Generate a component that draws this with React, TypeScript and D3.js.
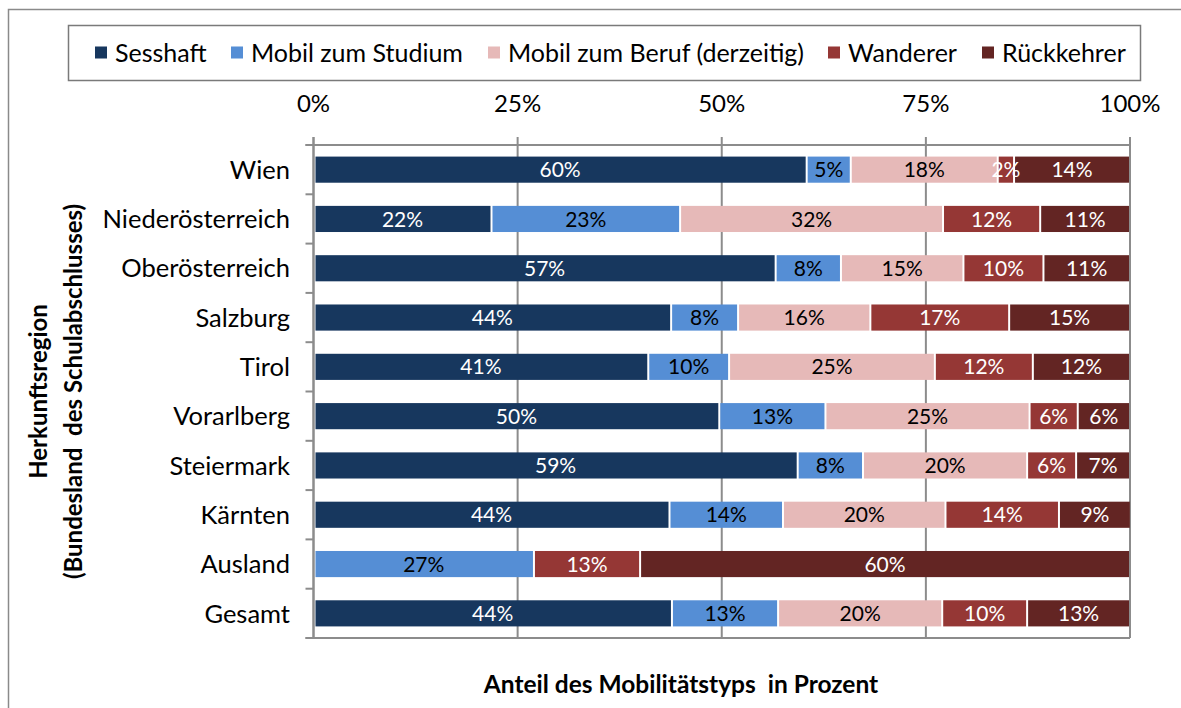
import React from 'react';
import * as d3 from 'd3';

const categories = ['Wien', 'Niederösterreich', 'Oberösterreich', 'Salzburg', 'Tirol', 'Vorarlberg', 'Steiermark', 'Kärnten', 'Ausland', 'Gesamt'];
const seriesNames = ['Sesshaft', 'Mobil zum Studium', 'Mobil zum Beruf (derzeitig)', 'Wanderer', 'Rückkehrer'];
const sesshaft = [60.4, 21.8, 56.6, 43.8, 41.0, 49.7, 59.3, 43.6, 0, 43.9];
const mobilStudium = [5.4, 23.1, 8.0, 8.2, 9.9, 13.0, 8.0, 13.9, 27.0, 13.0];
const mobilBeruf = [18.0, 32.2, 15.0, 16.2, 25.2, 25.0, 20.1, 19.9, 0, 20.1];
const wanderer = [2.0, 11.9, 9.8, 17.0, 12.0, 5.9, 6.0, 13.9, 13.0, 10.4];
const rueckkehrer = [14.2, 11.0, 10.6, 14.8, 11.9, 6.4, 6.6, 8.8, 60.0, 12.6];
const xTicks = [0, 25, 50, 75, 100];

const seriesValues = [sesshaft, mobilStudium, mobilBeruf, wanderer, rueckkehrer];
const colors = ['#17375E', '#558ED5', '#E6B9B8', '#953735', '#632523'];
const labelColors = ['#ffffff', '#000000', '#000000', '#ffffff', '#ffffff'];

const W = 1181;
const H = 708;
const FONT = 'Lato, "Noto Sans", sans-serif';
const plot = { left: 313.5, right: 1130, top: 145, bottom: 638 };
const legendX = [95, 231, 488, 828, 982];

export default function App() {
  const x = d3.scaleLinear().domain([0, 100]).range([plot.left, plot.right]);
  const y = d3
    .scaleBand<string>()
    .domain(categories)
    .range([plot.top, plot.bottom])
    .paddingInner(0.47)
    .paddingOuter(0.235);

  const rows = categories.map((cat, i) => {
    const vals = seriesValues.map((s) => s[i]);
    const stack = d3.stack<any, any>().keys(d3.range(vals.length) as any)([vals as any]);
    return { cat, segs: stack.map((layer, k) => ({ k, v: vals[k], x0: layer[0][0], x1: layer[0][1] })) };
  });

  const step = y.step();
  const boundaries = d3.range(categories.length + 1).map((i) => plot.top + i * step);
  const fmt = (v: number) => d3.format('.0f')(v) + '%';
  const grid = '#8c8c8c';
  const midY = (plot.top + plot.bottom) / 2;

  return (
    <svg
      width={W}
      height={H}
      style={{ position: 'absolute', left: 0, top: 0, background: '#fff' }}
      fontFamily={FONT}
    >
      <rect x={0} y={0} width={W} height={H} fill="#fff" />
      {/* outer frame */}
      <rect x={8.5} y={9.5} width={W + 20} height={H + 20} fill="none" stroke="#8a8a8a" strokeWidth={1.5} />

      {/* legend */}
      <rect x={68.5} y={25.5} width={1072} height={55} fill="#fff" stroke="#7a7a7a" strokeWidth={1.5} />
      {seriesNames.map((name, k) => (
        <g key={name}>
          <rect x={legendX[k]} y={46.5} width={12} height={12} fill={colors[k]} />
          <text x={legendX[k] + 20} y={62} fontSize={25} fill="#000">
            {name}
          </text>
        </g>
      ))}

      {/* gridlines */}
      {xTicks.map((t) => (
        <line key={'g' + t} x1={x(t)} x2={x(t)} y1={plot.top - 8} y2={plot.bottom} stroke={grid} strokeWidth={2} />
      ))}

      {/* bars */}
      {rows.map((r) =>
        r.segs
          .filter((s) => s.v > 0)
          .map((s) => {
            const xa = x(s.x0) + (s.x0 === 0 ? 2 : 1);
            const xb = x(s.x1) - 1;
            return (
              <rect
                key={r.cat + s.k}
                x={xa}
                y={y(r.cat)!}
                width={Math.max(0, xb - xa)}
                height={y.bandwidth()}
                fill={colors[s.k]}
              />
            );
          })
      )}

      {/* axes */}
      <line x1={plot.left - 8} x2={plot.right} y1={plot.top} y2={plot.top} stroke={grid} strokeWidth={2} />
      <line x1={plot.left - 8} x2={plot.right} y1={plot.bottom} y2={plot.bottom} stroke={grid} strokeWidth={2} />
      <line x1={plot.left} x2={plot.left} y1={plot.top - 8} y2={plot.bottom} stroke={grid} strokeWidth={2} />
      {boundaries.map((b, i) => (
        <line key={'yt' + i} x1={plot.left - 8} x2={plot.left} y1={b} y2={b} stroke={grid} strokeWidth={2} />
      ))}

      {/* x tick labels */}
      {xTicks.map((t) => (
        <text key={'xl' + t} x={x(t)} y={112} fontSize={24} textAnchor="middle" fill="#000">
          {t + '%'}
        </text>
      ))}

      {/* category labels */}
      {categories.map((c) => (
        <text key={'c' + c} x={290} y={y(c)! + y.bandwidth() / 2} dy="0.36em" fontSize={25.5} textAnchor="end" fill="#000">
          {c}
        </text>
      ))}

      {/* data labels */}
      {rows.map((r) =>
        r.segs
          .filter((s) => s.v > 0)
          .map((s) => (
            <text
              key={'d' + r.cat + s.k}
              x={(x(s.x0) + x(s.x1)) / 2}
              y={y(r.cat)! + y.bandwidth() / 2}
              dy="0.36em"
              fontSize={21}
              textAnchor="middle"
              fill={labelColors[s.k]}
            >
              {fmt(s.v)}
            </text>
          ))
      )}

      {/* axis titles */}
      <text x={681} y={693} fontSize={24.5} fontWeight="bold" textAnchor="middle" fill="#000" xmlSpace="preserve">
        {'Anteil des Mobilitätstyps  in Prozent'}
      </text>
      <g transform={`translate(38, ${midY}) rotate(-90)`}>
        <text x={0} y={0} dy="0.36em" fontSize={24} fontWeight="bold" textAnchor="middle" fill="#000">
          Herkunftsregion
        </text>
      </g>
      <g transform={`translate(73, ${midY}) rotate(-90)`}>
        <text x={0} y={0} dy="0.36em" fontSize={24} fontWeight="bold" textAnchor="middle" fill="#000" xmlSpace="preserve">
          {'(Bundesland  des Schulabschlusses)'}
        </text>
      </g>
    </svg>
  );
}
